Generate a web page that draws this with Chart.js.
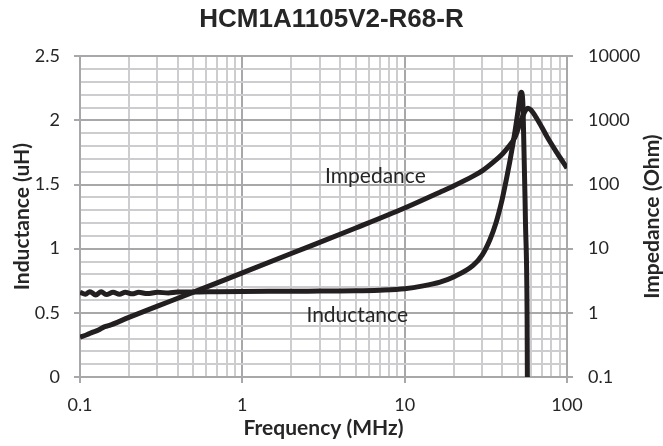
<!DOCTYPE html>
<html>
<head>
<meta charset="utf-8">
<script src="https://cdn.jsdelivr.net/npm/chart.js@4.4.1/dist/chart.umd.min.js"></script>
<style>
  html, body { margin: 0; padding: 0; background: #fff; }
  #wrap { width: 663px; height: 446px; }
</style>
</head>
<body>
<div id="wrap"><canvas id="chart" width="663" height="446"></canvas></div>
<script>
// Inductance curve (uH) vs frequency (MHz)
const freqL = [0.1, 0.108, 0.115, 0.125, 0.135, 0.145, 0.16, 0.175, 0.19, 0.21, 0.23, 0.26, 0.3, 0.35, 0.4,
  0.5, 0.7, 1, 2, 3, 5, 7, 10, 13, 16.5, 20, 26.4, 30, 33.5, 36.5, 39.8, 42, 44.6, 47.9, 50, 51.5, 52.3,
  53.6, 55.5, 56.8, 57.2];
const inductance = [0.66, 0.645, 0.665, 0.64, 0.665, 0.642, 0.66, 0.645, 0.66, 0.648, 0.66, 0.65, 0.66, 0.655, 0.662,
  0.662, 0.665, 0.667, 0.668, 0.67, 0.672, 0.677, 0.688, 0.71, 0.74, 0.78, 0.87, 0.95, 1.07, 1.2, 1.38, 1.52, 1.69, 1.92, 2.08, 2.2, 2.22,
  2.1, 1.2, 0.45, -0.5];

// Impedance curve (Ohm) vs frequency (MHz)
const freqZ = [0.1, 0.11, 0.12, 0.13, 0.14, 0.15, 0.2, 0.3, 0.5, 1, 2, 5, 10, 16.5, 20, 26.4, 30, 35.3, 40, 43,
  47.9, 51.4, 54, 56, 57.5, 60, 65, 70, 75.5, 87, 100];
const impedance = [0.42, 0.455, 0.5, 0.54, 0.6, 0.63, 0.85, 1.27, 2.1, 4.2, 8.4, 21, 43, 76, 95, 135, 163, 225, 300, 370,
  550, 910, 1250, 1480, 1550, 1450, 1080, 780, 550, 308, 180];

// Tick positions
const freqTicks = [0.1, 0.2, 0.3, 0.4, 0.5, 0.6, 0.7, 0.8, 0.9, 1, 2, 3, 4, 5, 6, 7, 8, 9,
  10, 20, 30, 40, 50, 60, 70, 80, 90, 100];
const inductanceTicks = [0, 0.1, 0.2, 0.3, 0.4, 0.5, 0.6, 0.7, 0.8, 0.9, 1, 1.1, 1.2, 1.3, 1.4, 1.5,
  1.6, 1.7, 1.8, 1.9, 2, 2.1, 2.2, 2.3, 2.4, 2.5];
const inductanceLabels = ['0', '0.5', '1', '1.5', '2', '2.5'];
const impedanceTicks = [0.1, 1, 10, 100, 1000, 10000];
const impedanceLabels = ['0.1', '1', '10', '100', '1000', '10000'];
const freqLabels = ['0.1', '1', '10', '100'];

const INK = '#231f20';
const TEXT = '#262626';
const MAJOR = '#a8a8aa';
const MINOR = '#cdcdcf';

function isDecade(v) {
  const l = Math.log10(v);
  return Math.abs(l - Math.round(l)) < 1e-9;
}
function isHalf(v) {
  return Math.round(v * 10) % 5 === 0;
}

// text labels inside the plot + right axis title drawn upward
const extraText = {
  id: 'extraText',
  afterDraw(chart) {
    const ctx = chart.ctx;
    const x = chart.scales.x, y = chart.scales.y;
    ctx.save();
    ctx.fillStyle = TEXT;
    ctx.textAlign = 'center';
    ctx.textBaseline = 'middle';
    ctx.font = '21px Lato';
    ctx.fillText('Impedance', x.getPixelForValue(6.6), y.getPixelForValue(1.565));
    ctx.fillText('Inductance', x.getPixelForValue(5.1), y.getPixelForValue(0.483));

    const area = chart.chartArea;
    ctx.translate(652, (area.top + area.bottom) / 2);
    ctx.rotate(-Math.PI / 2);
    ctx.font = 'bold 21px Lato';
    ctx.fillText('Impedance (Ohm)', 0, 0);
    ctx.restore();
  }
};

new Chart(document.getElementById('chart').getContext('2d'), {
  type: 'line',
  data: {
    datasets: [{
      label: 'Inductance',
      data: freqL.map((f, i) => ({ x: f, y: inductance[i] })),
      yAxisID: 'y',
      borderColor: INK,
      borderWidth: 5,
      pointRadius: 0,
      cubicInterpolationMode: 'monotone'
    }, {
      label: 'Impedance',
      data: freqZ.map((f, i) => ({ x: f, y: impedance[i] })),
      yAxisID: 'y1',
      borderColor: INK,
      borderWidth: 5,
      pointRadius: 0,
      cubicInterpolationMode: 'monotone'
    }]
  },
  options: {
    responsive: false,
    devicePixelRatio: 1,
    animation: false,
    layout: { padding: 0 },
    plugins: {
      legend: { display: false },
      tooltip: { enabled: false },
      title: {
        display: true,
        text: 'HCM1A1105V2-R68-R',
        color: TEXT,
        font: { family: 'Liberation Sans', size: 26, weight: 'bold', lineHeight: 1.2 },
        padding: { top: 4, bottom: 21 }
      }
    },
    scales: {
      x: {
        type: 'logarithmic',
        min: 0.1,
        max: 100,
        afterBuildTicks: s => { s.ticks = freqTicks.map(v => ({ value: v })); },
        afterFit: s => { s.height = 69; },
        ticks: {
          autoSkip: false,
          maxRotation: 0,
          padding: 11,
          color: TEXT,
          font: { family: 'Lato', size: 18 },
          callback: v => isDecade(v) ? freqLabels[Math.round(Math.log10(v)) + 1] : ''
        },
        grid: {
          color: c => (c.tick && isDecade(c.tick.value)) ? MAJOR : MINOR,
          lineWidth: 2,
          tickLength: 6,
          tickColor: c => (c.tick && isDecade(c.tick.value)) ? MAJOR : 'rgba(0,0,0,0)'
        },
        border: { color: MAJOR, width: 2 },
        title: {
          display: true,
          text: 'Frequency (MHz)',
          color: TEXT,
          font: { family: 'Lato', size: 21, weight: 'bold', lineHeight: 1 },
          padding: { top: 0, bottom: 7.5 }
        }
      },
      y: {
        type: 'linear',
        position: 'left',
        min: 0,
        max: 2.5,
        afterBuildTicks: s => { s.ticks = inductanceTicks.map(v => ({ value: v })); },
        afterFit: s => { s.width = 80; },
        ticks: {
          autoSkip: false,
          padding: 14,
          color: TEXT,
          font: { family: 'Lato', size: 18 },
          callback: v => isHalf(v) ? inductanceLabels[Math.round(v * 2)] : ''
        },
        grid: {
          color: c => (c.tick && isHalf(c.tick.value)) ? MAJOR : MINOR,
          lineWidth: 2,
          tickLength: 6,
          tickColor: c => (c.tick && isHalf(c.tick.value)) ? MAJOR : 'rgba(0,0,0,0)'
        },
        border: { color: MAJOR, width: 2 },
        title: {
          display: true,
          text: 'Inductance (uH)',
          color: TEXT,
          font: { family: 'Lato', size: 21, weight: 'bold', lineHeight: 1 },
          padding: { top: 11.5, bottom: 0 }
        }
      },
      y1: {
        type: 'logarithmic',
        position: 'right',
        min: 0.1,
        max: 10000,
        afterBuildTicks: s => { s.ticks = impedanceTicks.map(v => ({ value: v })); },
        afterFit: s => { s.width = 96; },
        ticks: {
          autoSkip: false,
          padding: 15,
          color: TEXT,
          font: { family: 'Lato', size: 18 },
          callback: (v, i) => impedanceLabels[i]
        },
        grid: {
          drawOnChartArea: false,
          tickLength: 6,
          tickColor: MAJOR,
          lineWidth: 2
        },
        border: { color: MAJOR, width: 2 }
      }
    }
  },
  plugins: [extraText]
});
</script>
</body>
</html>
